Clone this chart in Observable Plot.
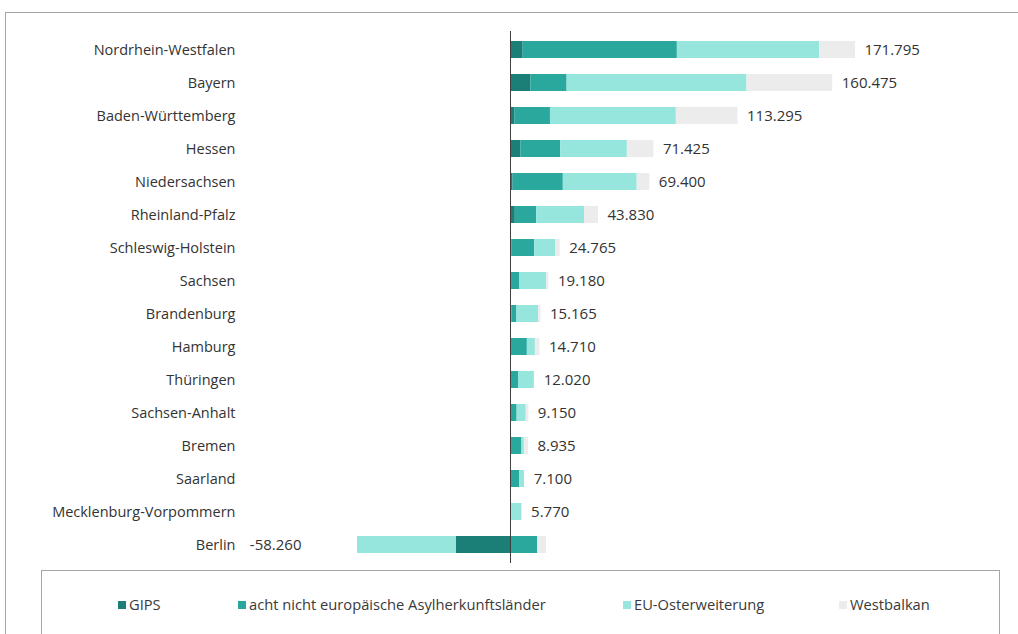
<!DOCTYPE html>
<html>
<head>
<meta charset="utf-8">
<script src="https://cdn.jsdelivr.net/npm/d3@7"></script>
<script src="https://cdn.jsdelivr.net/npm/@observablehq/plot@0.6"></script>
<style>
  html, body { margin: 0; padding: 0; background: #fff; width: 1018px; height: 634px; overflow: hidden; font-family: "Open Sans", sans-serif; }
  #frame { position: absolute; left: 5px; top: 12px; width: 1100px; height: 700px; border-top: 1px solid #a6a6a6; border-left: 1px solid #a6a6a6; }
  #chart { position: absolute; left: 0; top: 0; }
  #legend { position: absolute; left: 41px; top: 570px; width: 957px; height: 100px; border: 1px solid #a6a6a6; background: #fff; }
  .item { position: absolute; top: 24px; font-size: 14.7px; color: #3a3a3a; white-space: nowrap; line-height: 18px; }
  .sw { display: inline-block; width: 8px; height: 8px; margin-right: 3px; vertical-align: 1px; }
</style>
</head>
<body>
<div id="frame"></div>
<div id="chart"></div>
<div id="legend"></div>
<script>
const states = ["Nordrhein-Westfalen","Bayern","Baden-Württemberg","Hessen","Niedersachsen","Rheinland-Pfalz","Schleswig-Holstein","Sachsen","Brandenburg","Hamburg","Thüringen","Sachsen-Anhalt","Bremen","Saarland","Mecklenburg-Vorpommern","Berlin"];
const seriesNames = ["GIPS","acht nicht europäische Asylherkunftsländer","EU-Osterweiterung","Westbalkan"];
const seriesColors = ["#1b7f77","#2aa89e","#96e6de","#ececec"];
const gips       = [6300, 10100, 2300, 5100, 1300, 2400, 800, 300, 700, 200, 200, 100, 100, 100, 0, -26900];
const acht       = [76800, 18100, 17600, 19900, 25000, 10600, 11300, 4400, 2500, 8200, 3800, 3200, 5600, 4400, 500, 13600];
const euOst      = [70900, 89600, 62700, 33200, 36800, 23900, 10400, 13400, 10800, 4000, 7900, 4550, 1200, 2500, 5200, -49300];
const westbalkan = [17795, 42675, 30695, 13225, 6300, 6930, 2265, 1080, 1165, 2310, 120, 1300, 2035, 100, 70, 4340];
const totals     = [171795, 160475, 113295, 71425, 69400, 43830, 24765, 19180, 15165, 14710, 12020, 9150, 8935, 7100, 5770, -58260];

const seriesValues = [gips, acht, euOst, westbalkan];
const rows = [];
states.forEach((s, i) => {
  seriesNames.forEach((n, j) => rows.push({state: s, series: n, value: seriesValues[j][i]}));
});
const labelRows = states.map((s, i) => {
  const pos = seriesValues.reduce((a, v) => a + Math.max(0, v[i]), 0);
  const neg = seriesValues.reduce((a, v) => a + Math.min(0, v[i]), 0);
  return {state: s, total: totals[i], pos, neg};
});
const de = d3.formatLocale({decimal: ",", thousands: ".", grouping: [3], currency: ["", " €"], minus: "-"});
const fmt = de.format(",d");

const chart = Plot.plot({
  width: 1018,
  height: 571,
  marginLeft: 245,
  marginRight: 18,
  marginTop: 31,
  marginBottom: 8,
  style: {fontFamily: "Open Sans, sans-serif", fontSize: "14.5px", color: "#333", background: "transparent"},
  x: {domain: [-131970, 244030], axis: null},
  y: {domain: states, paddingInner: 0.485, paddingOuter: 0.3, label: null},
  color: {domain: seriesNames, range: seriesColors},
  marks: [
    Plot.axisY({tickSize: 0, tickPadding: 10, fontSize: "14.5px", label: null}),
    Plot.barX(rows, {y: "state", x: "value", fill: "series"}),
    Plot.ruleX([0], {stroke: "#404040", strokeWidth: 1}),
    Plot.text(labelRows.filter(d => d.total >= 0), {y: "state", x: "pos", text: d => fmt(d.total), textAnchor: "start", dx: 9, fontSize: 15, fill: "#333"}),
    Plot.text(labelRows.filter(d => d.total < 0), {y: "state", x: "neg", text: d => fmt(d.total), textAnchor: "end", dx: -56, fontSize: 15, fill: "#333"})
  ]
});
document.getElementById("chart").appendChild(chart);

const legendX = [76, 196, 581, 797];
const legend = document.getElementById("legend");
seriesNames.forEach((n, j) => {
  const el = document.createElement("div");
  el.className = "item";
  el.style.left = legendX[j] + "px";
  el.innerHTML = `<span class="sw" style="background:${seriesColors[j]}"></span>${n}`;
  legend.appendChild(el);
});
</script>
</body>
</html>
